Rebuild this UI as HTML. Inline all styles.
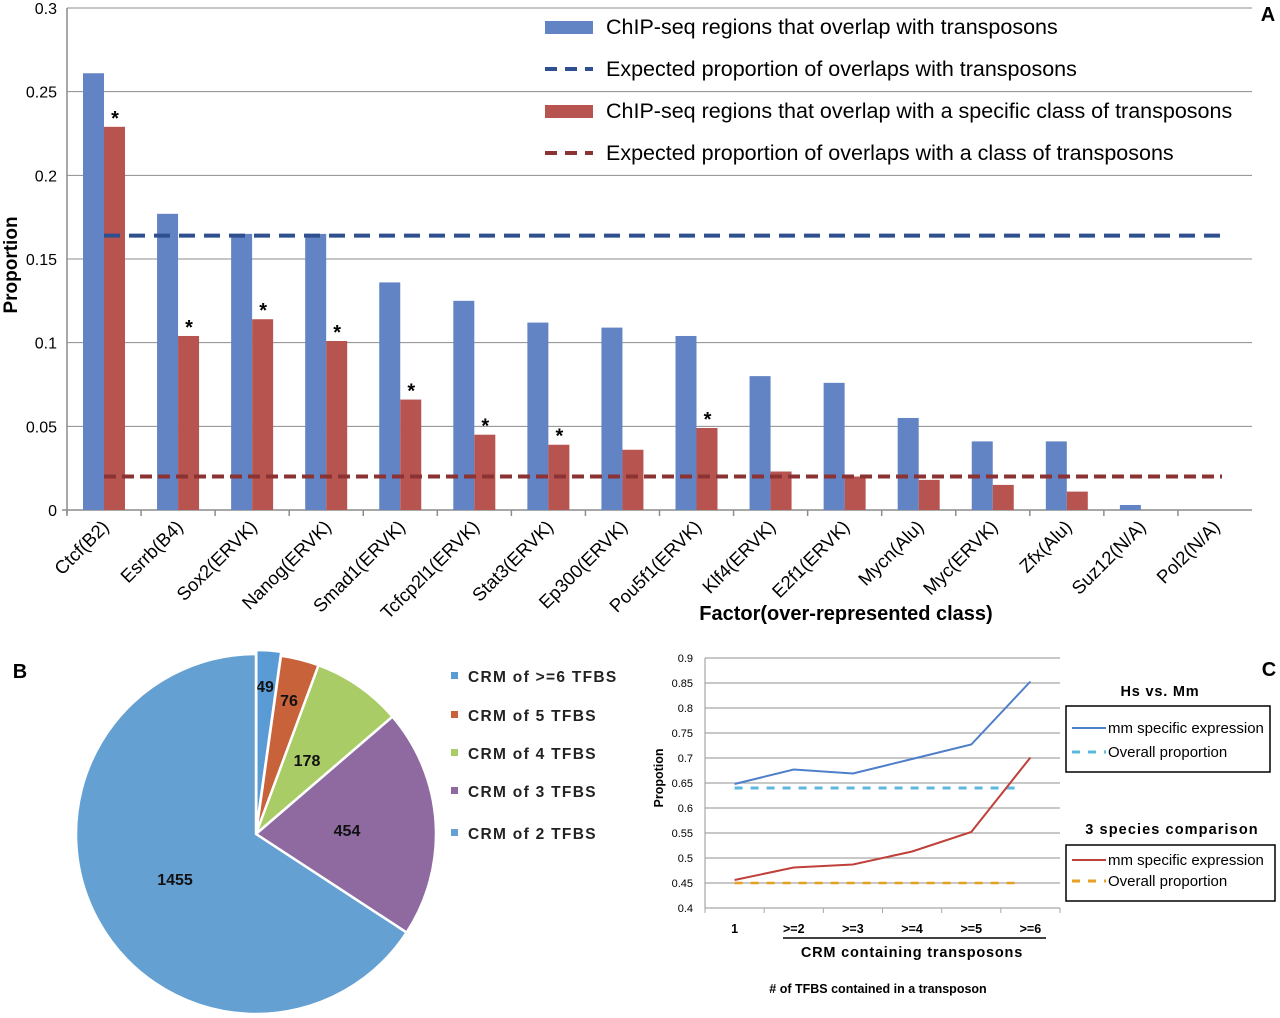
<!DOCTYPE html>
<html><head><meta charset="utf-8">
<style>
body{margin:0;background:#fff;}
svg{display:block;font-family:"Liberation Sans",sans-serif;}
</style></head>
<body>
<svg id="fig" width="1280" height="1018" viewBox="0 0 1280 1018">
<g id="pa"></g>
<g id="pb"></g>
<g id="pc"></g>
</svg>
<script>
// Panel A data
const factors = ["Ctcf(B2)","Esrrb(B4)","Sox2(ERVK)","Nanog(ERVK)","Smad1(ERVK)","Tcfcp2l1(ERVK)","Stat3(ERVK)","Ep300(ERVK)","Pou5f1(ERVK)","Klf4(ERVK)","E2f1(ERVK)","Mycn(Alu)","Myc(ERVK)","Zfx(Alu)","Suz12(N/A)","Pol2(N/A)"];
const overlapAll = [0.261,0.177,0.165,0.165,0.136,0.125,0.112,0.109,0.104,0.080,0.076,0.055,0.041,0.041,0.003,0];
const overlapClass = [0.229,0.104,0.114,0.101,0.066,0.045,0.039,0.036,0.049,0.023,0.020,0.018,0.015,0.011,0,0];
const significant = [1,1,1,1,1,1,1,0,1,0,0,0,0,0,0,0];
const expectedAll = 0.164;
const expectedClass = 0.020;
const aTicks = [0,0.05,0.1,0.15,0.2,0.25,0.3];
const aTickLabels = ["0","0.05","0.1","0.15","0.2","0.25","0.3"];
// Panel B data
const pieLabels = ["CRM of >=6 TFBS","CRM of 5 TFBS","CRM of 4 TFBS","CRM of 3 TFBS","CRM of 2 TFBS"];
const pieValues = [49,76,178,454,1455];
const pieColors = ["#5b9bd5","#c8623a","#a9cc66","#8e6aa0","#64a0d2"];
// Panel C data
const cCats = ["1",">=2",">=3",">=4",">=5",">=6"];
const hsMm = [0.648,0.677,0.669,0.698,0.727,0.853];
const threeSp = [0.456,0.481,0.487,0.513,0.552,0.701];
const hsMmOverall = 0.64;
const threeSpOverall = 0.45;
const cTicks = [0.4,0.45,0.5,0.55,0.6,0.65,0.7,0.75,0.8,0.85,0.9];
const cTickLabels = ["0.4","0.45","0.5","0.55","0.6","0.65","0.7","0.75","0.8","0.85","0.9"];

const NS="http://www.w3.org/2000/svg";
function mk(p,t,a,txt){const e=document.createElementNS(NS,t);for(const k in a)e.setAttribute(k,a[k]);if(txt!==undefined)e.textContent=txt;p.appendChild(e);return e;}

// ---- Panel A
const A=document.getElementById('pa');
const ax0=67, ax1=1252, ay0=510, ay1=8, aw=(ax1-ax0)/factors.length;
const ay=v=>ay0-(v/0.3)*(ay0-ay1);
aTicks.forEach((t,i)=>{
  if(i>0){let g=mk(A,'line',{x1:ax0,x2:ax1,y1:ay(t),y2:ay(t),stroke:'#8c8c8c','stroke-width':1});
  }
  let l=mk(A,'text',{x:57,y:ay(t)+6,'text-anchor':'end','font-size':16,fill:'#000'},aTickLabels[i]);
  
});
mk(A,'line',{x1:ax0,x2:ax0,y1:ay1,y2:ay0+4,stroke:'#8c8c8c','stroke-width':1.5});
mk(A,'line',{x1:ax0-5,x2:ax1,y1:ay0,y2:ay0,stroke:'#8c8c8c','stroke-width':1.5});
factors.forEach((f,i)=>{
  const x=ax0+i*aw;
  mk(A,'line',{x1:x,x2:x,y1:ay0,y2:ay0+6,stroke:'#8c8c8c','stroke-width':1.5});
  let b=mk(A,'rect',{x:x+16,y:ay(overlapAll[i]),width:21,height:ay0-ay(overlapAll[i]),fill:'#6283c4'});
  
  let r=mk(A,'rect',{x:x+37,y:ay(overlapClass[i]),width:21,height:ay0-ay(overlapClass[i]),fill:'#b85450'});
  
  if(significant[i]){let s=mk(A,'text',{x:x+48,y:ay(overlapClass[i])-2,'text-anchor':'middle','font-size':20,'font-weight':'bold'},'*');
  }
  let t=mk(A,'text',{x:0,y:0,'text-anchor':'end','font-size':18.5,transform:`translate(${x+aw/2+6},${ay0+18}) rotate(-45)`},f);
  
});
mk(A,'line',{x1:ax0+37,x2:ax1-30,y1:ay(expectedAll),y2:ay(expectedAll),stroke:'#2f4f8f','stroke-width':4,'stroke-dasharray':'16 9'});
mk(A,'line',{x1:ax0+37,x2:ax1-30,y1:ay(expectedClass),y2:ay(expectedClass),stroke:'#8b3333','stroke-width':4,'stroke-dasharray':'12 6'});
let yt=mk(A,'text',{x:0,y:0,'font-size':19,'font-weight':'bold','text-anchor':'middle',transform:'translate(17,265) rotate(-90)'},'Proportion');

let xt=mk(A,'text',{x:846,y:620,'font-size':20,'font-weight':'bold','text-anchor':'middle'},'Factor(over-represented class)');

let la=mk(A,'text',{x:1268,y:21,'font-size':20,'font-weight':'bold','text-anchor':'middle'},'A');

const legA=[["rect","#6283c4","ChIP-seq regions that overlap with transposons"],["dash","#2f4f8f","Expected proportion  of overlaps with transposons"],["rect","#b85450","ChIP-seq regions that overlap with a specific class of transposons"],["dash","#8b3333","Expected proportion  of overlaps with a class of transposons"]];
legA.forEach((l,i)=>{
  const y=27+i*42;
  if(l[0]==='rect')mk(A,'rect',{x:545,y:y-6,width:48,height:13,fill:l[1]});
  else mk(A,'line',{x1:545,x2:593,y1:y,y2:y,stroke:l[1],'stroke-width':4,'stroke-dasharray':'12 8'});
  let t=mk(A,'text',{x:606,y:y+7,'font-size':21.5,'xml:space':'preserve'},l[2]);
  
});

// ---- Panel B
const B=document.getElementById('pb');
const cx=256,cy=834,R=180;
const tot=pieValues.reduce((a,b)=>a+b,0);
let ang=0;
const labPos=[[265,686],[289,700],[307,760],[347,830],[175,879]];
pieValues.forEach((v,i)=>{
  const a0=ang, a1=ang+v/tot*2*Math.PI; ang=a1;
  let ox=0,oy=0; if(i===0){const m=(a0+a1)/2;ox=Math.sin(m)*4;oy=-Math.cos(m)*4;}
  const p=(a)=>[cx+ox+R*Math.sin(a),cy+oy-R*Math.cos(a)];
  const s=p(a0),e=p(a1);
  let sl=mk(B,'path',{d:`M${cx+ox},${cy+oy}L${s[0]},${s[1]}A${R},${R} 0 ${a1-a0>Math.PI?1:0} 1 ${e[0]},${e[1]}Z`,fill:pieColors[i],stroke:'#fff','stroke-width':2.5});
  
  let t=mk(B,'text',{x:labPos[i][0],y:labPos[i][1]+6,'text-anchor':'middle','font-size':16,'font-weight':'bold',fill:'#111'},String(v));
  
});
pieLabels.forEach((l,i)=>{
  const y=[676,715,753,791,833][i];
  mk(B,'rect',{x:451,y:y-4,width:7,height:7,fill:pieColors[i]});
  let t=mk(B,'text',{x:468,y:y+6,'font-size':15.5,'font-weight':'bold',fill:'#222','letter-spacing':'1.3'},l);
  
});
let lb=mk(B,'text',{x:20,y:678,'font-size':20,'font-weight':'bold','text-anchor':'middle'},'B');


// ---- Panel C
const C=document.getElementById('pc');
const cx0=705,cx1=1060,cy0=908,cy1=658,cw=(cx1-cx0)/cCats.length;
const cyv=v=>cy0-(v-0.4)/0.5*(cy0-cy1);
const cxv=i=>cx0+cw*(i+0.5);
cTicks.forEach((t,i)=>{
  mk(C,'line',{x1:cx0,x2:cx1,y1:cyv(t),y2:cyv(t),stroke:'#a6a6a6','stroke-width':1.2});
  let l=mk(C,'text',{x:693,y:cyv(t)+4,'text-anchor':'end','font-size':11},cTickLabels[i]);
  
});
mk(C,'line',{x1:cx0,x2:cx0,y1:cy1,y2:cy0,stroke:'#a6a6a6','stroke-width':1.2});
for(let i=0;i<=cCats.length;i++)mk(C,'line',{x1:cx0+i*cw,x2:cx0+i*cw,y1:cy0,y2:cy0+5,stroke:'#a6a6a6'});
cCats.forEach((c,i)=>{let t=mk(C,'text',{x:cxv(i),y:933,'text-anchor':'middle','font-size':12.5,'font-weight':'bold'},c);
});
mk(C,'line',{x1:cxv(0),x2:cxv(5)-8,y1:cyv(hsMmOverall),y2:cyv(hsMmOverall),stroke:'#5bb8e0','stroke-width':3,'stroke-dasharray':'8 8'});
mk(C,'line',{x1:cxv(0),x2:cxv(5)-8,y1:cyv(threeSpOverall),y2:cyv(threeSpOverall),stroke:'#e8a020','stroke-width':2.5,'stroke-dasharray':'8 8'});
let pl1=mk(C,'polyline',{points:hsMm.map((v,i)=>cxv(i)+','+cyv(v)).join(' '),fill:'none',stroke:'#4f7fc8','stroke-width':2});

let pl2=mk(C,'polyline',{points:threeSp.map((v,i)=>cxv(i)+','+cyv(v)).join(' '),fill:'none',stroke:'#c0403a','stroke-width':2});

mk(C,'line',{x1:783,x2:1046,y1:938,y2:938,stroke:'#000','stroke-width':1.5});
let t1=mk(C,'text',{x:912,y:957,'text-anchor':'middle','font-size':14.5,'font-weight':'bold','letter-spacing':'0.8'},'CRM containing transposons');

let t2=mk(C,'text',{x:878,y:993,'text-anchor':'middle','font-size':12.5,'font-weight':'bold'},'# of TFBS contained in a transposon');

let t3=mk(C,'text',{x:0,y:0,'text-anchor':'middle','font-size':12.5,'font-weight':'bold',transform:'translate(663,778) rotate(-90)'},'Propotion');

let h1=mk(C,'text',{x:1160,y:696,'text-anchor':'middle','font-size':14.5,'font-weight':'bold','letter-spacing':'0.8'},'Hs vs. Mm');

let h2=mk(C,'text',{x:1172,y:834,'text-anchor':'middle','font-size':14.5,'font-weight':'bold','letter-spacing':'1.1'},'3 species comparison');

mk(C,'rect',{x:1066,y:706,width:204,height:66,fill:'none',stroke:'#000','stroke-width':1.5});
mk(C,'rect',{x:1066,y:845,width:209,height:56,fill:'none',stroke:'#000','stroke-width':1.5});
[[728,'#4f7fc8',0,'mm specific expression'],[752,'#5bb8e0',1,'Overall proportion'],[860,'#c0403a',0,'mm specific expression'],[881,'#e8a020',1,'Overall proportion']].forEach(r=>{
  mk(C,'line',{x1:1072,x2:1106,y1:r[0],y2:r[0],stroke:r[1],'stroke-width':r[2]?3:2,'stroke-dasharray':r[2]?'8 8':'none'});
  let t=mk(C,'text',{x:1108,y:r[0]+5,'font-size':15},r[3]);
  
});
let lc=mk(C,'text',{x:1269,y:676,'font-size':20,'font-weight':'bold','text-anchor':'middle'},'C');

</script>
</body></html>
